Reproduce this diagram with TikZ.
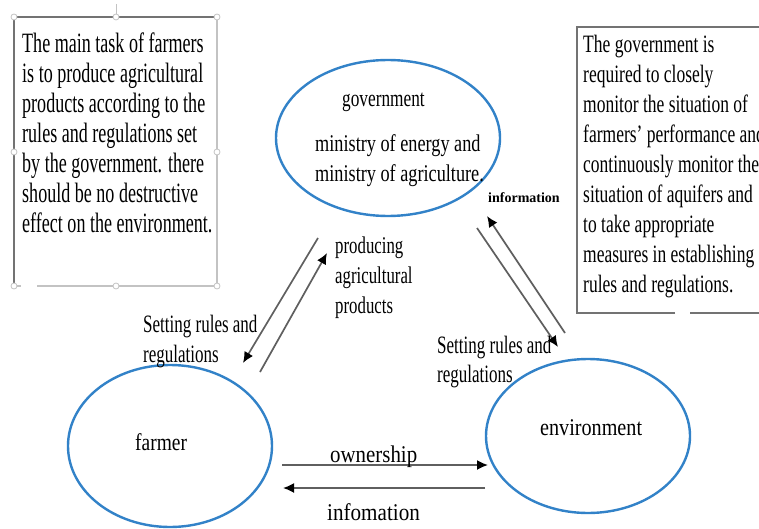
\documentclass[tikz,border=0pt]{standalone}
\usepackage{fontspec}
\setmainfont{Liberation Serif}
\usepackage{graphicx}
\usetikzlibrary{shapes.geometric,arrows.meta}
\newcommand{\sqz}[2]{\scalebox{#1}[1]{#2}}
\definecolor{ellblue}{RGB}{50,130,200}
\definecolor{arrgray}{RGB}{95,95,95}
\definecolor{boxdark}{RGB}{115,115,115}
\definecolor{boxlight}{RGB}{195,195,195}
\begin{document}
\begin{tikzpicture}[x=1pt,y=-1pt,
  ell/.style={draw=ellblue, line width=2.4pt, ellipse, inner sep=0pt},
  conn/.style={draw=arrgray, line width=1.7pt, -{Latex[length=11pt,width=10pt,color=black]}},
  txt/.style={anchor=base west, inner sep=0pt},
  handle/.style={circle, draw=boxlight, fill=white, line width=0.8pt, minimum size=6pt, inner sep=0pt},
]
\useasboundingbox (0,0) rectangle (759,529);
\clip (0,0) rectangle (759,529);
\fill[white] (0,0) rectangle (759,529);

% ---- left text box ----
\draw[boxlight, line width=1pt] (116,4) -- (116,17);
\draw[boxdark, line width=2pt] (14,286) -- (14,17) -- (217,17);
\draw[boxlight, line width=1.5pt] (217,17) -- (217,286);
\draw[boxlight, line width=1.5pt] (14,286) -- (21,286);
\draw[boxlight, line width=1.5pt] (37,286) -- (217,286);
\node[handle] (h1) at (14,17) {};
\node[handle] (h2) at (116,17) {};
\node[handle] (h3) at (217,17) {};
\node[handle] (h4) at (14,152) {};
\node[handle] (h5) at (217,152) {};
\node[handle] (h6) at (14,286) {};
\node[handle] (h7) at (116,286) {};
\node[handle] (h8) at (217,286) {};
\node[txt] (ltext) at (22,53) {\sqz{0.645}{\fontsize{28}{30}\selectfont\begin{tabular}[t]{@{}l@{}}
The main task of farmers\\
is to produce agricultural\\
products according to the\\
rules and regulations set\\
by the government. there\\
should be no destructive\\
effect on the environment.\end{tabular}}};

% ---- right text box ----
\draw[boxdark, line width=1.5pt] (675,313) -- (577,313) -- (577,27) -- (770,27);
\draw[boxdark, line width=1.5pt] (690,313) -- (770,313);
\node[txt] (rtext) at (583,53) {\sqz{0.70}{\fontsize{25}{30}\selectfont\begin{tabular}[t]{@{}l@{}}
The government is\\
required to closely\\
monitor the situation of\\
farmers' performance and\\
continuously monitor the\\
situation of aquifers and\\
to take appropriate\\
measures in establishing\\
rules and regulations.\end{tabular}}};

% ---- ellipses ----
\node[ell, minimum width=224pt, minimum height=156pt] (gov) at (388,138) {};
\node[ell, minimum width=204pt, minimum height=162pt] (farm) at (170,446) {};
\node[ell, minimum width=204pt, minimum height=154pt] (env) at (588,436) {};

\node[txt] (govt) at (342,107) {\sqz{0.72}{\fontsize{24}{30}\selectfont government}};
\node[txt] (mint) at (315,152) {\sqz{0.76}{\fontsize{24}{30}\selectfont\begin{tabular}[t]{@{}l@{}}
ministry of energy and\\
ministry of agriculture.\end{tabular}}};
\node[txt] (farmt) at (135,450) {\sqz{0.81}{\fontsize{24}{30}\selectfont farmer}};
\node[txt] (envt) at (540,435) {\sqz{0.84}{\fontsize{24}{30}\selectfont environment}};

% ---- connectors ----
\coordinate (gfA) at (318,238); \coordinate (gfB) at (243,363);
\coordinate (fgA) at (260,372); \coordinate (fgB) at (327,253);
\coordinate (egA) at (565,333); \coordinate (egB) at (487,216);
\coordinate (geA) at (477,228); \coordinate (geB) at (558,347);
\coordinate (feA) at (282,465); \coordinate (feB) at (488,465);
\coordinate (efA) at (485,488); \coordinate (efB) at (283,488);
\draw[conn] (gfA) -- (gfB);
\draw[conn] (fgA) -- (fgB);
\draw[conn] (egA) -- (egB);
\draw[conn] (geA) -- (geB);
\draw[conn] (feA) -- (feB);
\draw[conn] (efA) -- (efB);

% ---- connector labels ----
\node[txt] (lset) at (143,332) {\sqz{0.68}{\fontsize{25}{30}\selectfont\begin{tabular}[t]{@{}l@{}}
Setting rules and\\
regulations\end{tabular}}};
\node[txt] (lprod) at (335,253) {\sqz{0.70}{\fontsize{24}{30}\selectfont\begin{tabular}[t]{@{}l@{}}
producing\\
agricultural\\
products\end{tabular}}};
\node[txt] (rset) at (437,353) {\sqz{0.68}{\fontsize{25}{29}\selectfont\begin{tabular}[t]{@{}l@{}}
Setting rules and\\
regulations\end{tabular}}};
\node[txt] (rinfo) at (488,203) {\fontsize{14}{16}\selectfont\bfseries information};
\node[txt] (own) at (330,462) {\sqz{0.87}{\fontsize{24}{30}\selectfont ownership}};
\node[txt] (binfo) at (327,520) {\sqz{0.88}{\fontsize{24}{30}\selectfont infomation}};
\end{tikzpicture}
\end{document}
